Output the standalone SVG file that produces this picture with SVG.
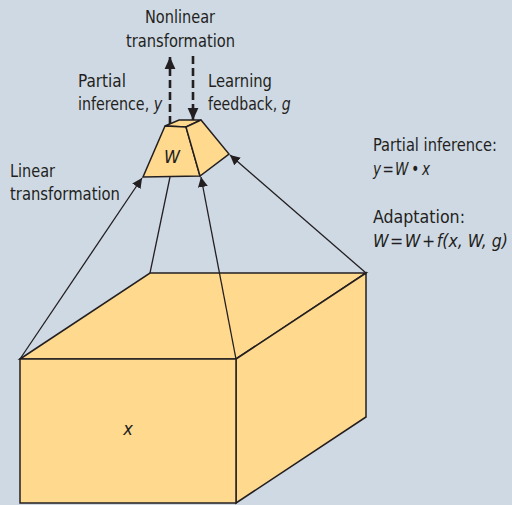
<svg xmlns="http://www.w3.org/2000/svg" width="512" height="505" viewBox="0 0 512 505">
<defs>
<style>
.shape{fill:#ffd98e;stroke:#231f20;stroke-width:1.5;stroke-linejoin:miter}
.conn{stroke:#231f20;stroke-width:1.3;fill:none}
.dash{stroke:#231f20;stroke-width:2.6;fill:none;stroke-dasharray:8,4}
text{font-family:"DejaVu Sans Condensed","Liberation Sans Narrow","Liberation Sans",sans-serif;font-size:18px;fill:#231f20}
.it{font-style:italic}
</style>
<marker id="ah" viewBox="0 0 10 10" refX="10" refY="5" markerWidth="10" markerHeight="10" markerUnits="userSpaceOnUse" orient="auto">
<path d="M0,0 L10,5 L0,10 Z" fill="#231f20"/>
</marker>
<marker id="ahd" viewBox="0 0 10 10" refX="10" refY="5" markerWidth="12" markerHeight="12" markerUnits="userSpaceOnUse" orient="auto">
<path d="M0,0.5 L10,5 L0,9.5 Z" fill="#231f20"/>
</marker>
</defs>
<rect width="512" height="505" fill="#cfd9e4"/>
<g id="box">
<polygon class="shape" points="20,359 150,273 366,273 236,359"/>
<polygon class="shape" points="236,359 366,273 366,417 236,503"/>
<rect class="shape" x="20" y="359" width="216" height="144"/>
<text class="it" x="128" y="435" text-anchor="middle">x</text>
</g>
<g id="weights">
<polygon class="shape" points="165,126 179,120 201,120 186,127"/>
<polygon class="shape" points="165,126 186,127 200,176 143,177"/>
<polygon class="shape" points="186,127 201,120 229,154 200,176"/>
<text class="it" x="164" y="163" textLength="16" lengthAdjust="spacingAndGlyphs">W</text>
</g>
<g id="connectors">
<line class="conn" x1="20" y1="359" x2="142" y2="178" marker-end="url(#ah)"/>
<line class="conn" x1="150" y1="273" x2="170" y2="177"/>
<line class="conn" x1="236" y1="359" x2="201" y2="177" marker-end="url(#ah)"/>
<line class="conn" x1="366" y1="273" x2="230" y2="155" marker-end="url(#ah)"/>
<line class="dash" x1="170" y1="124" x2="170" y2="57" marker-end="url(#ahd)"/>
<line class="dash" x1="193" y1="56" x2="193" y2="120" marker-end="url(#ahd)"/>
</g>
<g id="labels">
<text x="145" y="23" textLength="70" lengthAdjust="spacingAndGlyphs">Nonlinear</text>
<text x="126" y="47" textLength="109" lengthAdjust="spacingAndGlyphs">transformation</text>
<text x="78" y="87" textLength="48" lengthAdjust="spacingAndGlyphs">Partial</text>
<text transform="translate(78,110) scale(0.88,1)">inference, <tspan class="it">y</tspan></text>
<text x="208" y="87" textLength="64" lengthAdjust="spacingAndGlyphs">Learning</text>
<text transform="translate(208,110) scale(0.87,1)">feedback, <tspan class="it">g</tspan></text>
<text x="10" y="177" textLength="45" lengthAdjust="spacingAndGlyphs">Linear</text>
<text x="10" y="200" textLength="110" lengthAdjust="spacingAndGlyphs">transformation</text>
<text x="373" y="151" textLength="124" lengthAdjust="spacingAndGlyphs">Partial inference:</text>
<text x="373" y="175" class="it" textLength="57" lengthAdjust="spacingAndGlyphs">y&#8202;=&#8202;W&#8201;•&#8201;x</text>
<text x="373" y="223" textLength="92" lengthAdjust="spacingAndGlyphs">Adaptation:</text>
<text x="373" y="247" class="it" textLength="135" lengthAdjust="spacingAndGlyphs">W&#8202;=&#8202;W&#8202;+&#8202;f(x, W, g)</text>
</g>
</svg>
